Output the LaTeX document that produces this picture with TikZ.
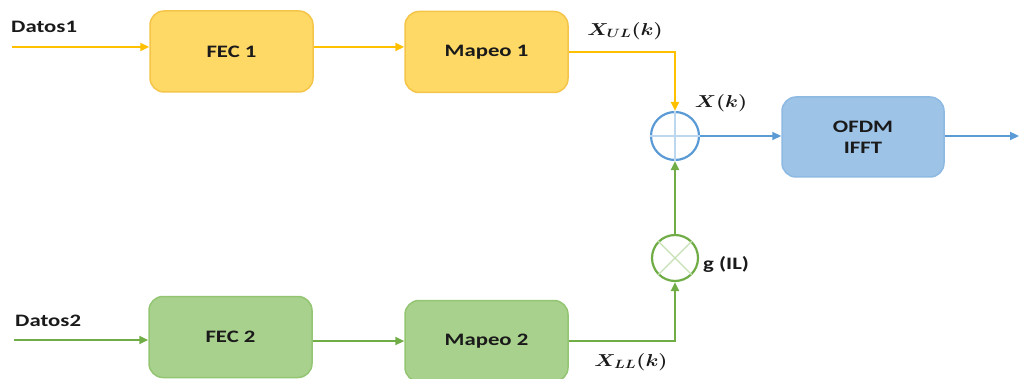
\documentclass[tikz,border=0pt]{standalone}
\usepackage{amsmath}
\usepackage{fontspec}
\setsansfont[FakeStretch=1.3]{Carlito}
\usetikzlibrary{arrows.meta}
\definecolor{yfill}{HTML}{FFD966}
\definecolor{ydraw}{HTML}{F5C54A}
\definecolor{yline}{HTML}{FFC000}
\definecolor{gfill}{HTML}{A9D18E}
\definecolor{gdraw}{HTML}{93C572}
\definecolor{gline}{HTML}{70AD47}
\definecolor{gcross}{HTML}{C5E0B4}
\definecolor{bfill}{HTML}{9DC3E6}
\definecolor{bdraw}{HTML}{8DB9E2}
\definecolor{bline}{HTML}{5B9BD5}
\definecolor{bcross}{HTML}{BDD7EE}
\definecolor{ink}{HTML}{1A1A1A}
\newcommand{\wide}[1]{\scalebox{1.2}[1]{#1}}
\begin{document}
\begin{tikzpicture}[x=1pt,y=-1pt,
  lbl/.style={font=\sffamily\bfseries\fontsize{17.5}{20}\selectfont, text=ink, inner sep=0pt},
  mlbl/.style={font=\fontsize{17.5}{20}\selectfont\boldmath, text=ink, inner sep=0pt},
  box/.style={rounded corners=14pt, line width=1.5pt, minimum width=163pt, minimum height=81pt, inner sep=0pt, align=center,
    font=\sffamily\bfseries\fontsize{17.5}{21}\selectfont, text=ink},
  ybox/.style={box, fill=yfill, draw=ydraw},
  gbox/.style={box, fill=gfill, draw=gdraw},
  bbox/.style={box, fill=bfill, draw=bdraw},
  tip/.style={-{Triangle[length=9pt,width=8pt]}},
  yarrow/.style={tip, draw=yline, line width=2.6pt},
  garrow/.style={tip, draw=gline, line width=2.6pt},
  barrow/.style={tip, draw=bline, line width=2.2pt},
  sumnode/.style={circle, minimum size=48pt, inner sep=0pt, line width=2.2pt, fill=white}
]
\useasboundingbox (0,0) rectangle (1019,379);
\clip (0,0) rectangle (1019,379);

% boxes
\node[ybox] (fec1) at (231.5,51.5) {FEC 1};
\node[ybox] (map1) at (486.5,52) {Mapeo 1};
\node[gbox] (fec2) at (230.5,337) {FEC 2};
\node[gbox] (map2) at (486.5,341) {Mapeo 2};
\node[bbox, minimum width=162pt, minimum height=80pt] (ofdm) at (863,137) {OFDM\\IFFT};

% summation and multiplier
\node[sumnode, draw=bline] (plus) at (675,136) {};
\draw[bcross, line width=1.2pt] (plus.north) -- (plus.south) (plus.west) -- (plus.east);
\node[sumnode, draw=gline, minimum size=46pt] (mul) at (675,258) {};
\draw[gcross, line width=1.2pt] (mul.north west) -- (mul.south east) (mul.north east) -- (mul.south west);

% inputs
\coordinate (d1) at (12,47);
\coordinate (d2) at (14,340);
\node[lbl, anchor=west] (t1) at (11,27) {Datos1};
\node[lbl, anchor=west] (t2) at (15,321) {Datos2};

% connectors
\draw[yarrow] (d1) -- (d1 -| fec1.west);
\draw[yarrow] (fec1.east |- d1) -- (map1.west |- d1);
\draw[yarrow] (map1.east) -| (plus.north);
\draw[garrow] (d2) -- (d2 -| fec2.west);
\draw[garrow] (fec2.east |- map2.east) -- (map2.west);
\draw[garrow] (map2.east) -| (mul.south);
\draw[garrow] (mul.north) -- (plus.south);
\draw[barrow] (plus.east) -- (plus.east -| ofdm.west);
\coordinate (out) at (1019,136);
\draw[barrow] (ofdm.east |- out) -- (out);

% labels
\node[mlbl] (xul) at (625,31) {\wide{$X_{UL}(k)$}};
\node[mlbl] (xk) at (721,103) {\wide{$X(k)$}};
\node[lbl, anchor=west] (g) at (703,264) {g (IL)};
\node[mlbl] (xll) at (631,362) {\wide{$X_{LL}(k)$}};
\end{tikzpicture}
\end{document}
